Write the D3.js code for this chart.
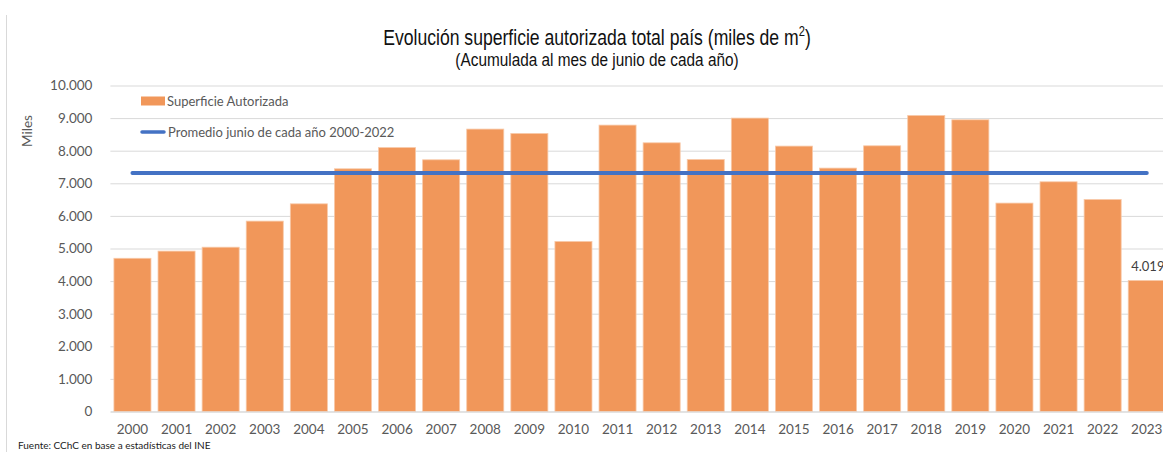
<!DOCTYPE html>
<html>
<head>
<meta charset="utf-8">
<script src="https://cdn.jsdelivr.net/npm/d3@7"></script>
<style>
  body { margin: 0; background: #fff; }
  svg { display: block; }
  .tick text { font-family: Lato, "Open Sans", sans-serif; fill: #595959; }
</style>
</head>
<body>
<div id="chart"></div>
<script>
"use strict";

// data
const years = ["2000","2001","2002","2003","2004","2005","2006","2007","2008","2009","2010","2011",
               "2012","2013","2014","2015","2016","2017","2018","2019","2020","2021","2022","2023"];
const superficie = [4700, 4920, 5040, 5840, 6370, 7445, 8095, 7721, 8663, 8528, 5215, 8785,
                    8242, 7730, 9000, 8141, 7466, 8150, 9080, 8948, 6393, 7046, 6503, 4019];
const promedio = 7313;
const yTicks = [0, 1000, 2000, 3000, 4000, 5000, 6000, 7000, 8000, 9000, 10000];

const width = 1163, height = 452;
const plotLeft = 110.4, plotBottom = 411.5, plotTop = 85.5;

// thousands with a dot, like "10.000"
let fmt = function(v) { return d3.format(",")(v).replace(/,/g, "."); };

const svg = d3.select("#chart").append("svg")
  .attr("width", width)
  .attr("height", height);

// chart frame edge at the left
svg.append("line")
  .attr("x1", 6.5).attr("x2", 6.5).attr("y1", 15).attr("y2", height)
  .attr("stroke", "#d9d9d9");

const x = d3.scaleBand()
  .domain(years)
  .range([plotLeft, plotLeft + 44.1 * years.length])
  .paddingInner(0.16)
  .paddingOuter(0.08);

const y = d3.scaleLinear()
  .domain([0, 10000])
  .range([plotBottom, plotTop]);

// gridlines + y labels
const yAxis = svg.append("g")
  .attr("transform", `translate(${plotLeft},0)`)
  .call(d3.axisLeft(y).tickValues(yTicks).tickFormat(fmt).tickSize(-(width - plotLeft)).tickPadding(18));
yAxis.select(".domain").remove();
yAxis.selectAll(".tick line").attr("stroke", "#d9d9d9");
yAxis.selectAll(".tick text").style("font-size", "13.5px");

// bars
svg.append("g").selectAll("rect").data(superficie)
  .enter().append("rect")
    .attr("x", function(d, i) { return x(years[i]); })
    .attr("y", function(d) { return y(d); })
    .attr("width", x.bandwidth())
    .attr("height", function(d) { return y(0) - y(d); })
    .attr("fill", "#f1975a")
    .attr("stroke", "#f8c9a8")
    .attr("stroke-width", 0.8);

// x axis labels
const xAxis = svg.append("g")
  .attr("transform", `translate(0,${plotBottom})`)
  .call(d3.axisBottom(x).tickSize(0).tickPadding(13));
xAxis.select(".domain").attr("stroke", "#d9d9d9");
xAxis.selectAll(".tick text").style("font-size", "13.5px");

// average line, from first to last category centre
const half = x.bandwidth() / 2;
svg.append("line")
  .attr("x1", x(years[0]) + half)
  .attr("x2", x(years[years.length - 1]) + half)
  .attr("y1", y(promedio)).attr("y2", y(promedio))
  .attr("stroke", "#4472c4")
  .attr("stroke-width", 4)
  .attr("stroke-linecap", "round");

// data label for last bar
const last = superficie.length - 1;
svg.append("text")
  .attr("x", x(years[last]) + 3)
  .attr("y", y(superficie[last]) - 9)
  .style("font-family", "Lato, 'Open Sans', sans-serif")
  .style("font-size", "13px")
  .attr("fill", "#404040")
  .text(fmt(superficie[last]));

// legend
const legend = svg.append("g").style("font-family", "Lato, 'Open Sans', sans-serif").style("font-size", "13px");
legend.append("rect").attr("x", 141).attr("y", 96.5).attr("width", 24).attr("height", 9).attr("fill", "#f1975a");
legend.append("text").attr("x", 167).attr("y", 105.5).attr("fill", "#595959").text("Superficie Autorizada");
legend.append("line").attr("x1", 142).attr("x2", 164).attr("y1", 132).attr("y2", 132)
  .attr("stroke", "#4472c4").attr("stroke-width", 3.5).attr("stroke-linecap", "round");
legend.append("text").attr("x", 168).attr("y", 136.5).attr("fill", "#595959").text("Promedio junio de cada año 2000-2022");

// axis title
svg.append("text")
  .attr("transform", "translate(32,131) rotate(-90)")
  .attr("text-anchor", "middle")
  .style("font-family", "Lato, 'Open Sans', sans-serif")
  .style("font-size", "13.5px")
  .attr("fill", "#595959")
  .text("Miles");

// titles, squeezed sideways to look like a narrow face
const title = svg.append("text")
  .attr("transform", "translate(597,45) scale(0.8,1)")
  .attr("text-anchor", "middle")
  .style("font-family", "'Liberation Sans', Arial, sans-serif")
  .style("font-size", "22px")
  .attr("fill", "#111");
title.append("tspan").text("Evolución superficie autorizada total país (miles de m");
title.append("tspan").attr("dy", -9).style("font-size", "14px").text("2");
title.append("tspan").attr("dy", 9).text(")");

svg.append("text")
  .attr("transform", "translate(597,66) scale(0.84,1)")
  .attr("text-anchor", "middle")
  .style("font-family", "'Liberation Sans', Arial, sans-serif")
  .style("font-size", "18.3px")
  .attr("fill", "#111")
  .text("(Acumulada al mes de junio de cada año)");

// source note at the bottom edge
svg.append("text")
  .attr("x", 18).attr("y", 449)
  .style("font-family", "Lato, 'Open Sans', sans-serif")
  .style("font-size", "10px")
  .attr("fill", "#1a1a1a")
  .text("Fuente: CChC en base a estadísticas del INE");
</script>
</body>
</html>
